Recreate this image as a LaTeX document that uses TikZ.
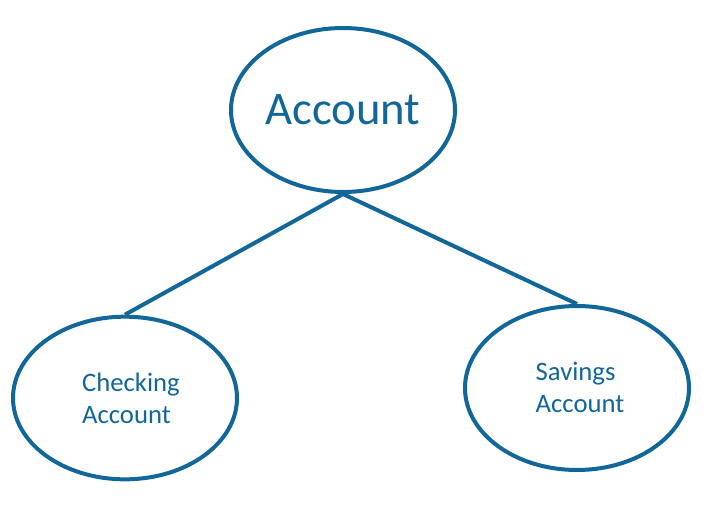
\documentclass[tikz,border=0pt]{standalone}
\usepackage{fontspec}
\setmainfont{Carlito}
\usetikzlibrary{shapes.geometric}
\definecolor{acctblue}{HTML}{11679A}

\tikzset{
  acct/.style={ellipse, draw=acctblue, line width=3pt, text=acctblue,
    minimum width=168pt, minimum height=123pt, inner sep=0pt},
  acctlabel/.style={text=acctblue, font=\fontsize{20}{24}\selectfont, align=left, inner sep=0pt},
  link/.style={draw=acctblue, line width=3pt}
}

\begin{document}
\begin{tikzpicture}[x=0.75pt,y=-0.75pt]
  \useasboundingbox (0,0) rectangle (707,514);

  \node[acct, font=\fontsize{35}{42}\selectfont] (account) at (343,110) {Account};
  \node[acct, minimum height=122pt] (checking) at (125,398) {};
  \node[acct] (savings) at (577,388) {};

  \node[acctlabel] (checkingtext) at ([xshift=4.5pt]checking.center) {Checking\\Account};
  \node[acctlabel] (savingstext) at ([xshift=2.25pt,yshift=0.75pt]savings.center) {Savings\\Account};

  \draw[link] (account.south) -- (checking.north);
  \draw[link] (account.south) -- (savings.north);
\end{tikzpicture}
\end{document}
